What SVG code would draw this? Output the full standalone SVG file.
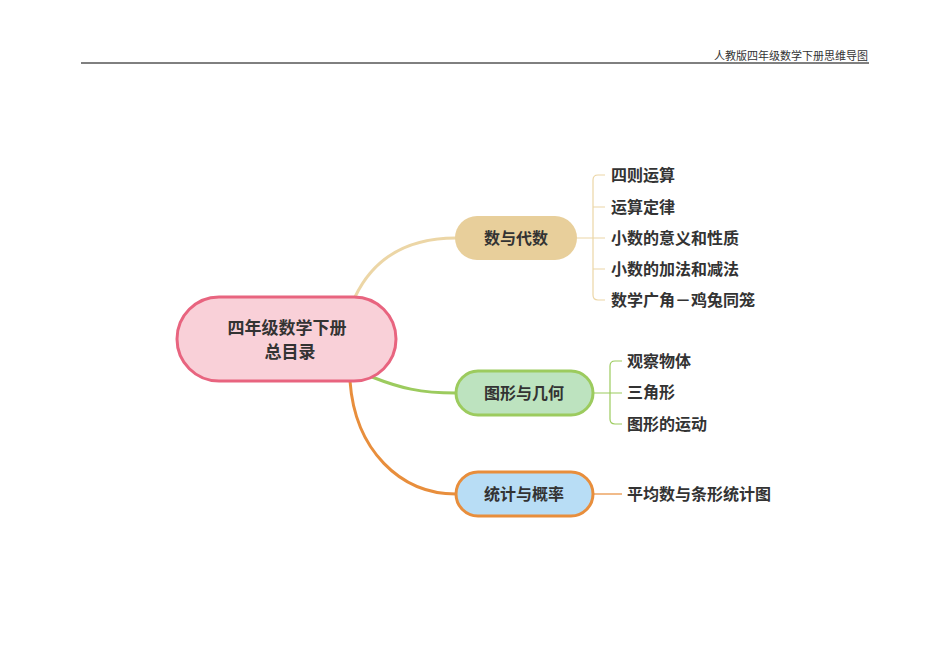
<svg xmlns="http://www.w3.org/2000/svg" width="950" height="672" viewBox="0 0 950 672">
<style>
text{font-family:"Noto Sans CJK SC","Noto Sans",sans-serif;fill:#333}
.n{font-weight:bold;font-size:16px;text-anchor:middle;dominant-baseline:central}
.c{font-weight:bold;font-size:16px;dominant-baseline:central}
.l{fill:none;stroke-width:3}
.b{fill:none;stroke-width:1.2}
</style>
<rect width="950" height="672" fill="#fff"/>
<g id="header">
<text x="868" y="60" font-size="11" text-anchor="end" style="font-family:'Noto Sans CJK SC',serif">人教版四年级数学下册思维导图</text>
<line x1="81" y1="63" x2="869" y2="63" stroke="#000" stroke-width="1"/>
</g>
<g id="connectors">
<path class="l" stroke="#ECD6A6" d="M355,297 C375,255 410,238 456,238"/>
<path class="l" stroke="#9CCB5E" d="M372,377 C400,388 420,393 456,393"/>
<path class="l" stroke="#E88E3C" d="M350,381 C355,450 400,494 456,494"/>
<g stroke="#ECD6A6" class="b">
<path d="M577,238 H605 M605,175 H598 Q593,175 593,180 V295 Q593,300 598,300 H605 M593,207 H605 M593,269 H605"/>
</g>
<g stroke="#9CCB5E" class="b">
<path d="M593,393 H622 M622,361 H615 Q610,361 610,366 V419 Q610,424 615,424 H622"/>
</g>
<path class="b" stroke="#E88E3C" d="M593,494 H622"/>
</g>
<g id="root">
<rect x="177" y="297" width="219" height="84" rx="42" fill="#F9D0D8" stroke="#E8647F" stroke-width="3"/>
<text class="n" x="287" y="326" style="font-size:17px">四年级数学下册</text>
<text class="n" x="290" y="350" style="font-size:17px">总目录</text>
</g>
<g id="n1">
<rect x="455" y="216" width="122" height="44" rx="22" fill="#E8CF9B"/>
<text class="n" x="516" y="237">数与代数</text>
</g>
<g id="n2">
<rect x="456" y="371" width="137" height="44" rx="22" fill="#BDE3BF" stroke="#9CCB5E" stroke-width="3"/>
<text class="n" x="524" y="392">图形与几何</text>
</g>
<g id="n3">
<rect x="456" y="472" width="137" height="44" rx="22" fill="#B8DDF5" stroke="#E88E3C" stroke-width="3"/>
<text class="n" x="524" y="493">统计与概率</text>
</g>
<g id="c1"><text class="c" x="611" y="174">四则运算</text></g>
<g id="c2"><text class="c" x="611" y="206">运算定律</text></g>
<g id="c3"><text class="c" x="611" y="237">小数的意义和性质</text></g>
<g id="c4"><text class="c" x="611" y="268">小数的加法和减法</text></g>
<g id="c5"><text class="c" x="611" y="299">数学广角－鸡兔同笼</text></g>
<g id="c6"><text class="c" x="627" y="360">观察物体</text></g>
<g id="c7"><text class="c" x="627" y="391">三角形</text></g>
<g id="c8"><text class="c" x="627" y="423">图形的运动</text></g>
<g id="c9"><text class="c" x="627" y="493">平均数与条形统计图</text></g>
</svg>
